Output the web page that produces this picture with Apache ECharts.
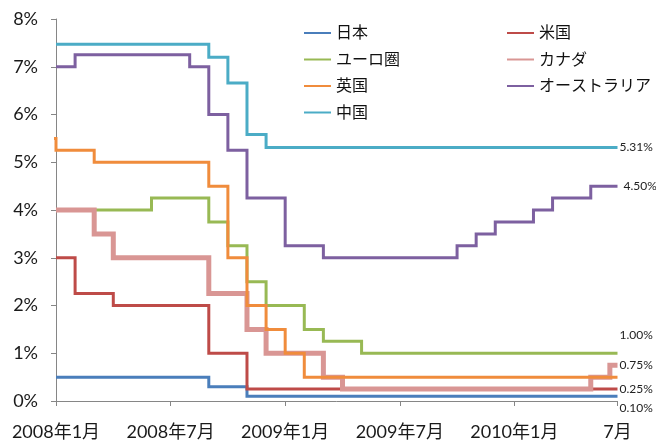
<!DOCTYPE html>
<html>
<head>
<meta charset="utf-8">
<script src="https://cdn.jsdelivr.net/npm/echarts@6/dist/echarts.min.js"></script>
<style>
  html, body { margin: 0; padding: 0; background: #ffffff; }
  #chart { width: 656px; height: 441px; }
</style>
</head>
<body>
<div id="chart"></div>
<script>
// Month-end policy rates (%), Dec 2007 – Jun 2010
const months = [
  '2007-12',
  '2008-01','2008-02','2008-03','2008-04','2008-05','2008-06',
  '2008-07','2008-08','2008-09','2008-10','2008-11','2008-12',
  '2009-01','2009-02','2009-03','2009-04','2009-05','2009-06',
  '2009-07','2009-08','2009-09','2009-10','2009-11','2009-12',
  '2010-01','2010-02','2010-03','2010-04','2010-05','2010-06'
];

const japan = [null,
  0.5, 0.5, 0.5, 0.5, 0.5, 0.5, 0.5, 0.5, 0.3, 0.3, 0.1, 0.1,
  0.1, 0.1, 0.1, 0.1, 0.1, 0.1, 0.1, 0.1, 0.1, 0.1, 0.1, 0.1,
  0.1, 0.1, 0.1, 0.1, 0.1, 0.1];

const usa = [null,
  3.0, 2.25, 2.25, 2.0, 2.0, 2.0, 2.0, 2.0, 1.0, 1.0, 0.25, 0.25,
  0.25, 0.25, 0.25, 0.25, 0.25, 0.25, 0.25, 0.25, 0.25, 0.25, 0.25, 0.25,
  0.25, 0.25, 0.25, 0.25, 0.25, 0.25];

const euro = [null,
  4.0, 4.0, 4.0, 4.0, 4.0, 4.25, 4.25, 4.25, 3.75, 3.25, 2.5, 2.0,
  2.0, 1.5, 1.25, 1.25, 1.0, 1.0, 1.0, 1.0, 1.0, 1.0, 1.0, 1.0,
  1.0, 1.0, 1.0, 1.0, 1.0, 1.0];

const canada = [null,
  4.0, 4.0, 3.5, 3.0, 3.0, 3.0, 3.0, 3.0, 2.25, 2.25, 1.5, 1.0,
  1.0, 1.0, 0.5, 0.25, 0.25, 0.25, 0.25, 0.25, 0.25, 0.25, 0.25, 0.25,
  0.25, 0.25, 0.25, 0.25, 0.5, 0.75];

const uk = [5.5,
  5.25, 5.25, 5.0, 5.0, 5.0, 5.0, 5.0, 5.0, 4.5, 3.0, 2.0, 1.5,
  1.0, 0.5, 0.5, 0.5, 0.5, 0.5, 0.5, 0.5, 0.5, 0.5, 0.5, 0.5,
  0.5, 0.5, 0.5, 0.5, 0.5, 0.5];

const australia = [null,
  7.0, 7.25, 7.25, 7.25, 7.25, 7.25, 7.25, 7.0, 6.0, 5.25, 4.25, 4.25,
  3.25, 3.25, 3.0, 3.0, 3.0, 3.0, 3.0, 3.0, 3.0, 3.25, 3.5, 3.75,
  3.75, 4.0, 4.25, 4.25, 4.5, 4.5];

const china = [null,
  7.47, 7.47, 7.47, 7.47, 7.47, 7.47, 7.47, 7.47, 7.2, 6.66, 5.58, 5.31,
  5.31, 5.31, 5.31, 5.31, 5.31, 5.31, 5.31, 5.31, 5.31, 5.31, 5.31, 5.31,
  5.31, 5.31, 5.31, 5.31, 5.31, 5.31];

const xTickLabels = ['2008年1月', '2008年7月', '2009年1月', '2009年7月', '2010年1月', '7月'];
const yTickValues = [0, 1, 2, 3, 4, 5, 6, 7, 8];

// horizontal axis runs in months counted from Jan 2008
const X_MAX = 29.4;
const monthPos = s => {
  const [y, m] = s.split('-').map(Number);
  return (y - 2008) * 12 + (m - 1);
};

function toPoints(vals) {
  const pts = [];
  months.forEach((m, k) => { if (vals[k] != null) pts.push([monthPos(m), vals[k]]); });
  // hold the latest rate out to the right edge of the axis
  pts.push([X_MAX, vals[vals.length - 1]]);
  return pts;
}

const FONT = "Lato, 'Noto Sans CJK JP', sans-serif";
const AXIS_GREY = '#868686';

function rateSeries(name, vals, color, width, labelOpt) {
  const s = {
    name: name,
    type: 'line',
    step: 'end',
    data: toPoints(vals),
    symbol: 'none',
    showSymbol: false,
    clip: true,
    lineStyle: { color: color, width: width, cap: 'butt', join: 'miter' },
    itemStyle: { color: color },
    emphasis: { disabled: true }
  };
  if (labelOpt) {
    s.endLabel = {
      show: true,
      distance: 2,
      offset: labelOpt.offset || [0, 0],
      color: '#222222',
      fontFamily: FONT,
      fontSize: 12,
      formatter: p => p.value[1].toFixed(2) + '%'
    };
  }
  return s;
}

const chart = echarts.init(document.getElementById('chart'), null, { renderer: 'canvas' });

// legend keys are plain line swatches: the marker dot is made transparent
const legendCommon = {
  orient: 'vertical',
  top: 23,
  padding: 0,
  itemWidth: 27,
  itemHeight: 14,
  itemGap: 6.5,
  selectedMode: false,
  itemStyle: { opacity: 0, borderWidth: 0 },
  textStyle: { fontFamily: FONT, fontSize: 16, lineHeight: 20, color: '#111111' }
};

chart.setOption({
  animation: false,
  backgroundColor: '#ffffff',
  grid: { left: 56, right: 38.5, top: 19, bottom: 40, outerBoundsMode: 'none', containLabel: false },
  legend: [
    Object.assign({ left: 303, data: ['日本', 'ユーロ圏', '英国', '中国'] }, legendCommon),
    Object.assign({ left: 506, data: ['米国', 'カナダ', 'オーストラリア'] }, legendCommon)
  ],
  xAxis: {
    type: 'value',
    min: 0,
    max: X_MAX,
    interval: 6,
    axisLine: { show: true, lineStyle: { color: AXIS_GREY, width: 1 } },
    axisTick: { show: true, inside: false, length: 5, lineStyle: { color: AXIS_GREY } },
    splitLine: { show: false },
    axisLabel: {
      margin: 22,
      fontFamily: FONT,
      fontSize: 18,
      color: '#1a1a1a',
      formatter: v => xTickLabels[Math.round(v / 6)] || ''
    }
  },
  yAxis: {
    type: 'value',
    min: yTickValues[0],
    max: yTickValues[yTickValues.length - 1],
    interval: 1,
    axisLine: { show: true, lineStyle: { color: AXIS_GREY, width: 1 } },
    axisTick: { show: true, inside: false, length: 5, lineStyle: { color: AXIS_GREY } },
    splitLine: { show: false },
    axisLabel: {
      margin: 18,
      fontFamily: FONT,
      fontSize: 18,
      color: '#1a1a1a',
      formatter: '{value}%'
    }
  },
  series: [
    rateSeries('日本', japan, '#4A7EBB', 3, { offset: [0, 12] }),
    rateSeries('米国', usa, '#BE4B48', 3, {}),
    rateSeries('ユーロ圏', euro, '#98B954', 3, { offset: [0, -18] }),
    rateSeries('カナダ', canada, '#D99694', 5, {}),
    rateSeries('英国', uk, '#F08C3C', 3, null),
    rateSeries('オーストラリア', australia, '#7D60A0', 3, { offset: [4, 0] }),
    rateSeries('中国', china, '#4BACC6', 3, {})
  ]
});
</script>
</body>
</html>
